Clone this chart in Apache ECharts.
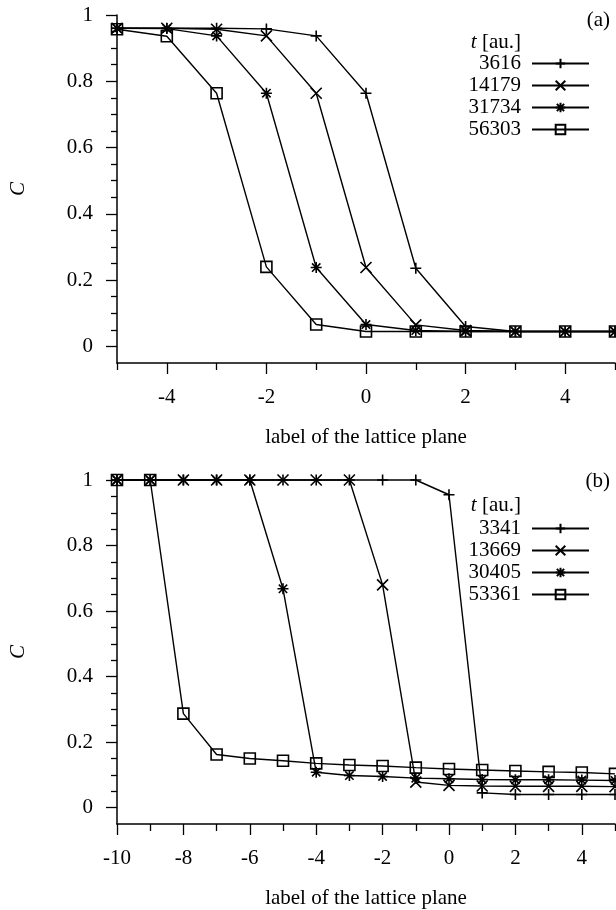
<!DOCTYPE html>
<html>
<head>
<meta charset="utf-8">
<script src="https://cdn.jsdelivr.net/npm/echarts@6/dist/echarts.min.js"></script>
<style>
  html, body { margin: 0; padding: 0; background: #fff; }
  #chart { width: 616px; height: 910px; }
</style>
</head>
<body>
<div id="chart"></div>
<script>
// panel (a)
var xA = [-5, -4, -3, -2, -1, 0, 1, 2, 3, 4, 5];
var namesA = ['3616', '14179', '31734', '56303'];
var cA1 = [0.960, 0.960, 0.960, 0.958, 0.937, 0.764, 0.236, 0.060, 0.045, 0.045, 0.045];
var cA2 = [0.960, 0.960, 0.957, 0.937, 0.764, 0.238, 0.065, 0.048, 0.045, 0.045, 0.045];
var cA3 = [0.960, 0.959, 0.937, 0.764, 0.238, 0.066, 0.048, 0.045, 0.045, 0.045, 0.045];
var cA4 = [0.957, 0.936, 0.764, 0.240, 0.066, 0.045, 0.045, 0.045, 0.045, 0.045, 0.045];
var xTicksA = [-4, -2, 0, 2, 4];
var xMinorA = [-5, -3, -1, 1, 3, 5];

// panel (b)
var xB = [-10, -9, -8, -7, -6, -5, -4, -3, -2, -1, 0, 1, 2, 3, 4, 5];
var namesB = ['3341', '13669', '30405', '53361'];
var cB1 = [1, 1, 1, 1, 1, 1, 1, 1, 1, 1, 0.955, 0.045, 0.040, 0.040, 0.040, 0.040];
var cB2 = [1, 1, 1, 1, 1, 1, 1, 1, 0.680, 0.078, 0.068, 0.066, 0.065, 0.065, 0.065, 0.064];
var cB3 = [1, 1, 1, 1, 1, 0.668, 0.108, 0.098, 0.095, 0.090, 0.088, 0.086, 0.085, 0.085, 0.084, 0.083];
var cB4 = [1, 1, 0.287, 0.162, 0.150, 0.143, 0.135, 0.130, 0.127, 0.122, 0.118, 0.115, 0.112, 0.109, 0.107, 0.103];
var xTicksB = [-10, -8, -6, -4, -2, 0, 2, 4];
var xMinorB = [-9, -7, -5, -3, -1, 1, 3, 5];

var yTicks = [0, 0.2, 0.4, 0.6, 0.8, 1];
var yMinor = [0.05, 0.1, 0.15, 0.25, 0.3, 0.35, 0.45, 0.5, 0.55, 0.65, 0.7, 0.75, 0.85, 0.9, 0.95];

var FONT = 'Liberation Serif';
var FS = 21;

// gnuplot-ish point types
var symPlus = 'path://M0,5L10,5M5,0L5,10';
var symCross = 'path://M0,0L10,10M0,10L10,0';
var symStar = 'path://M0,5L10,5M5,0L5,10M1.2,1.2L8.8,8.8M1.2,8.8L8.8,1.2';
var symbols = [symPlus, symCross, symStar, 'rect'];

function mk(name, xs, ys, sym, axis) {
    return {
        name: name,
        type: 'line',
        xAxisIndex: axis,
        yAxisIndex: axis,
        data: xs.map(function (x, i) { return [x, ys[i]]; }),
        symbol: sym,
        symbolSize: 11,
        showAllSymbol: true,
        clip: false,
        lineStyle: { color: '#000', width: 1.4 },
        itemStyle: { color: 'rgba(0,0,0,0)', borderColor: '#000', borderWidth: 1.6 },
        emphasis: { disabled: true },
        animation: false
    };
}

function xMain(g, min, max, ticks) {
    return {
        type: 'value', gridIndex: g, min: min, max: max, position: 'bottom',
        axisLine: { show: true, onZero: false, lineStyle: { color: '#000', width: 1.5 } },
        axisTick: { show: true, inside: false, length: 11, customValues: ticks, lineStyle: { color: '#000', width: 1.3 } },
        axisLabel: { customValues: ticks, margin: 24, fontSize: FS, fontFamily: FONT, color: '#000' },
        splitLine: { show: false },
        name: 'label of the lattice plane', nameLocation: 'middle', nameGap: 64,
        nameTextStyle: { fontSize: FS, fontFamily: FONT, color: '#000' }
    };
}
function xMinor(g, min, max, ticks) {
    return {
        type: 'value', gridIndex: g, min: min, max: max, position: 'bottom',
        axisLine: { show: false, onZero: false },
        axisTick: { show: true, inside: false, length: 7, customValues: ticks, lineStyle: { color: '#000', width: 1.3 } },
        axisLabel: { show: false },
        splitLine: { show: false }
    };
}
function yMain(g) {
    return {
        type: 'value', gridIndex: g, min: -0.05, max: 1, position: 'left',
        axisLine: { show: true, onZero: false, lineStyle: { color: '#000', width: 1.5 } },
        axisTick: { show: true, inside: false, length: 11, customValues: yTicks, lineStyle: { color: '#000', width: 1.3 } },
        axisLabel: { customValues: yTicks, margin: 24, fontSize: FS, fontFamily: FONT, color: '#000' },
        splitLine: { show: false },
        name: 'C', nameLocation: 'middle', nameGap: 88,
        nameTextStyle: { fontSize: FS, fontFamily: FONT, fontStyle: 'italic', color: '#000' }
    };
}
function yMinorAxis(g) {
    return {
        type: 'value', gridIndex: g, min: -0.05, max: 1, position: 'left',
        axisLine: { show: false, onZero: false },
        axisTick: { show: true, inside: false, length: 6, customValues: yMinor, lineStyle: { color: '#000', width: 1.3 } },
        axisLabel: { show: false },
        splitLine: { show: false }
    };
}

function legendFor(names, top) {
    return {
        data: names, orient: 'vertical', right: 26, top: top, padding: 0,
        align: 'right', itemWidth: 57, itemHeight: 12, itemGap: 1,
        selectedMode: false,
        textStyle: { fontSize: FS, fontFamily: FONT, color: '#000', lineHeight: 21, padding: [0, 6, 0, 0] }
    };
}

var rich = { i: { fontSize: FS, fontFamily: FONT, fontStyle: 'italic', color: '#000' } };
var baseText = { fontSize: FS, fontFamily: FONT, fontWeight: 'normal', color: '#000', rich: rich };

var series = [];
[cA1, cA2, cA3, cA4].forEach(function (ys, i) { series.push(mk(namesA[i], xA, ys, symbols[i], 0)); });
[cB1, cB2, cB3, cB4].forEach(function (ys, i) { series.push(mk(namesB[i], xB, ys, symbols[i], 2)); });

var chart = echarts.init(document.getElementById('chart'), null, { renderer: 'canvas' });
chart.setOption({
    backgroundColor: '#fff',
    animation: false,
    title: [
        { text: '(a)', right: 6, top: 10, padding: 0, textStyle: baseText },
        { text: '{i|t} [au.]', right: 95, top: 32, padding: 0, textStyle: baseText },
        { text: '(b)', right: 6, top: 471, padding: 0, textStyle: baseText },
        { text: '{i|t} [au.]', right: 95, top: 495, padding: 0, textStyle: baseText }
    ],
    legend: [legendFor(namesA, 53), legendFor(namesB, 518)],
    grid: [
        { left: 115, right: 1, top: 15, height: 348 },
        { left: 115, right: 1, top: 480, height: 348 }
    ],
    xAxis: [xMain(0, -5, 5, xTicksA), xMinor(0, -5, 5, xMinorA), xMain(1, -10, 5, xTicksB), xMinor(1, -10, 5, xMinorB)],
    yAxis: [yMain(0), yMinorAxis(0), yMain(1), yMinorAxis(1)],
    series: series
});
</script>
</body>
</html>
